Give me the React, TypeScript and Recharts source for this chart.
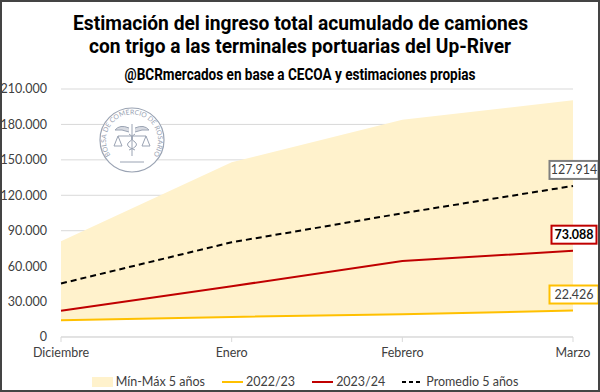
import {
  Area,
  CartesianGrid,
  ComposedChart,
  LabelList,
  Line,
  XAxis,
  YAxis,
} from 'recharts'

const categorias = ['Diciembre', 'Enero', 'Febrero', 'Marzo']
const minimo5 = [14200, 17000, 19300, 22426]
const maximo5 = [81000, 148000, 184000, 200500]
const campana2223 = [14200, 17000, 19300, 22426]
const campana2324 = [22300, 43000, 64300, 73088]
const promedio5 = [45300, 80200, 104800, 127914]
const yTicks = [0, 30000, 60000, 90000, 120000, 150000, 180000, 210000]

const data = categorias.map((mes, i) => ({
  mes,
  rango: [minimo5[i], maximo5[i]],
  c2223: campana2223[i],
  c2324: campana2324[i],
  prom: promedio5[i],
}))

const FONT = "Lato, 'Noto Sans', sans-serif"
const TITLE_FONT = "Roboto, 'Noto Sans', sans-serif"

// 210000 -> "210.000"
const fmt = (v: number) =>
  Math.round(v).toString().replace(/\B(?=(\d{3})+(?!\d))/g, '.')

// Etiqueta con recuadro sólo en el último punto.
function lastLabel(color: string, bold = false) {
  return (props: any) => {
    const { x, y, value, index } = props
    if (index !== categorias.length - 1) return null
    const w = bold ? 45 : 49
    const h = 18
    const cx = Number(x) + 1
    const cy = Number(y) - 16
    return (
      <g>
        <rect
          x={cx - w / 2}
          y={cy - h / 2}
          width={w}
          height={h}
          fill="#fff"
          stroke={color}
          strokeWidth={2}
        />
        <text
          x={cx}
          y={cy + 4.5}
          textAnchor="middle"
          fontFamily={FONT}
          fontSize={12.5}
          fontWeight={bold ? 700 : 400}
          fill={bold ? '#000' : '#404040'}
        >
          {fmt(Number(value))}
        </text>
      </g>
    )
  }
}

function Logo() {
  const c = '#9aa3b3'
  return (
    <svg
      width={70}
      height={70}
      viewBox="-35 -35 70 70"
      style={{ position: 'absolute', left: 95, top: 103 }}
    >
      <defs>
        <path id="arco" d="M -20 17 A 26 26 0 1 1 20 17" />
      </defs>
      <circle r={32} fill="#fff" stroke={c} strokeWidth={1.2} />
      <text fontFamily={FONT} fontSize={6.8} fill={c}>
        <textPath href="#arco" startOffset="50%" textAnchor="middle">
          BOLSA DE COMERCIO DE ROSARIO
        </textPath>
      </text>
      <g stroke={c} strokeWidth={1} fill="none">
        <line x1={0} y1={-16} x2={0} y2={16} />
        <path d="M -3 -12 Q -12 -16 -17 -10 Q -10 -11 -3 -8" fill={c} fillOpacity={0.4} />
        <path d="M 3 -12 Q 12 -16 17 -10 Q 10 -11 3 -8" fill={c} fillOpacity={0.4} />
        <line x1={-14} y1={-4} x2={14} y2={-4} />
        <path d="M -14 -4 L -18 6 L -10 6 Z" />
        <path d="M 14 -4 L 10 6 L 18 6 Z" />
        <path d="M -3 -6 Q 4 -2 -3 2 Q -8 6 3 10" />
        <path d="M 3 -6 Q -4 -2 3 2 Q 8 6 -3 10" />
        <line x1={-12} y1={22} x2={12} y2={22} />
      </g>
    </svg>
  )
}

const leyenda = [
  { nombre: 'Mín-Máx 5 años', color: '#FFF2CC', tipo: 'area' },
  { nombre: '2022/23', color: '#FFC000', tipo: 'line' },
  { nombre: '2023/24', color: '#C00000', tipo: 'line' },
  { nombre: 'Promedio 5 años', color: '#000', tipo: 'dash' },
]

export default function App() {
  return (
    <div
      style={{
        position: 'relative',
        width: 600,
        height: 392,
        boxSizing: 'border-box',
        border: '2px solid #444',
        background: '#fff',
        overflow: 'hidden',
      }}
    >
      <style>{'body{margin:0}'}</style>
      <svg
        width={596}
        height={90}
        style={{ position: 'absolute', left: 0, top: 0 }}
      >
        <g fontFamily={TITLE_FONT} fontWeight={700} fill="#000" textAnchor="middle">
          <text x={298.5} y={27.5} fontSize={20} textLength={455} lengthAdjust="spacingAndGlyphs">
            Estimación del ingreso total acumulado de camiones
          </text>
          <text x={298} y={50.5} fontSize={20} textLength={422} lengthAdjust="spacingAndGlyphs">
            con trigo a las terminales portuarias del Up-River
          </text>
          <text x={298} y={78} fontSize={16} textLength={351} lengthAdjust="spacingAndGlyphs">
            @BCRmercados en base a CECOA y estimaciones propias
          </text>
        </g>
      </svg>
      <div style={{ position: 'absolute', left: 0, top: 0 }}>
        <ComposedChart
          width={596}
          height={388}
          data={data}
          margin={{ top: 87, right: 25, left: 0, bottom: 23 }}
          style={{ overflow: 'visible' }}
        >
          <CartesianGrid vertical={false} stroke="#d9d9d9" />
          <XAxis
            dataKey="mes"
            scale="point"
            height={30}
            stroke="#d9d9d9"
            tickSize={5}
            tick={{ fill: '#404040', fontSize: 12.5, fontFamily: FONT }}
            tickMargin={6}
            interval={0}
          />
          <YAxis
            width={59}
            domain={[0, 210000]}
            ticks={yTicks}
            tickFormatter={fmt}
            axisLine={false}
            tickLine={false}
            tickMargin={8}
            tick={{ fill: '#404040', fontSize: 12.5, fontFamily: FONT }}
          />
          <Area
            dataKey="rango"
            fill="#FFF2CC"
            fillOpacity={1}
            stroke="none"
            isAnimationActive={false}
          />
          <Line
            dataKey="c2223"
            stroke="#FFC000"
            strokeWidth={2}
            dot={false}
            isAnimationActive={false}
          >
            <LabelList dataKey="c2223" content={lastLabel('#FFC000')} />
          </Line>
          <Line
            dataKey="c2324"
            stroke="#C00000"
            strokeWidth={2}
            dot={false}
            isAnimationActive={false}
          >
            <LabelList dataKey="c2324" content={lastLabel('#C00000', true)} />
          </Line>
          <Line
            dataKey="prom"
            stroke="#000"
            strokeWidth={2}
            strokeDasharray="6 4"
            dot={false}
            isAnimationActive={false}
          >
            <LabelList dataKey="prom" content={lastLabel('#7f7f7f')} />
          </Line>
        </ComposedChart>
      </div>
      <Logo />
      <div
        style={{
          position: 'absolute',
          left: 0,
          width: 596,
          top: 371,
          display: 'flex',
          justifyContent: 'center',
          gap: 17,
          paddingLeft: 10,
          boxSizing: 'border-box',
          fontFamily: FONT,
          fontSize: 12.5,
          color: '#404040',
          lineHeight: '18px',
        }}
      >
        {leyenda.map(l => (
          <div key={l.nombre} style={{ display: 'flex', alignItems: 'center', gap: 3 }}>
            <svg width={21} height={10}>
              {l.tipo === 'area' ? (
                <rect x={0} y={0} width={21} height={10} fill={l.color} />
              ) : (
                <line
                  x1={0}
                  y1={5}
                  x2={21}
                  y2={5}
                  stroke={l.color}
                  strokeWidth={2}
                  strokeDasharray={l.tipo === 'dash' ? '4 3' : undefined}
                />
              )}
            </svg>
            <span>{l.nombre}</span>
          </div>
        ))}
      </div>
    </div>
  )
}
